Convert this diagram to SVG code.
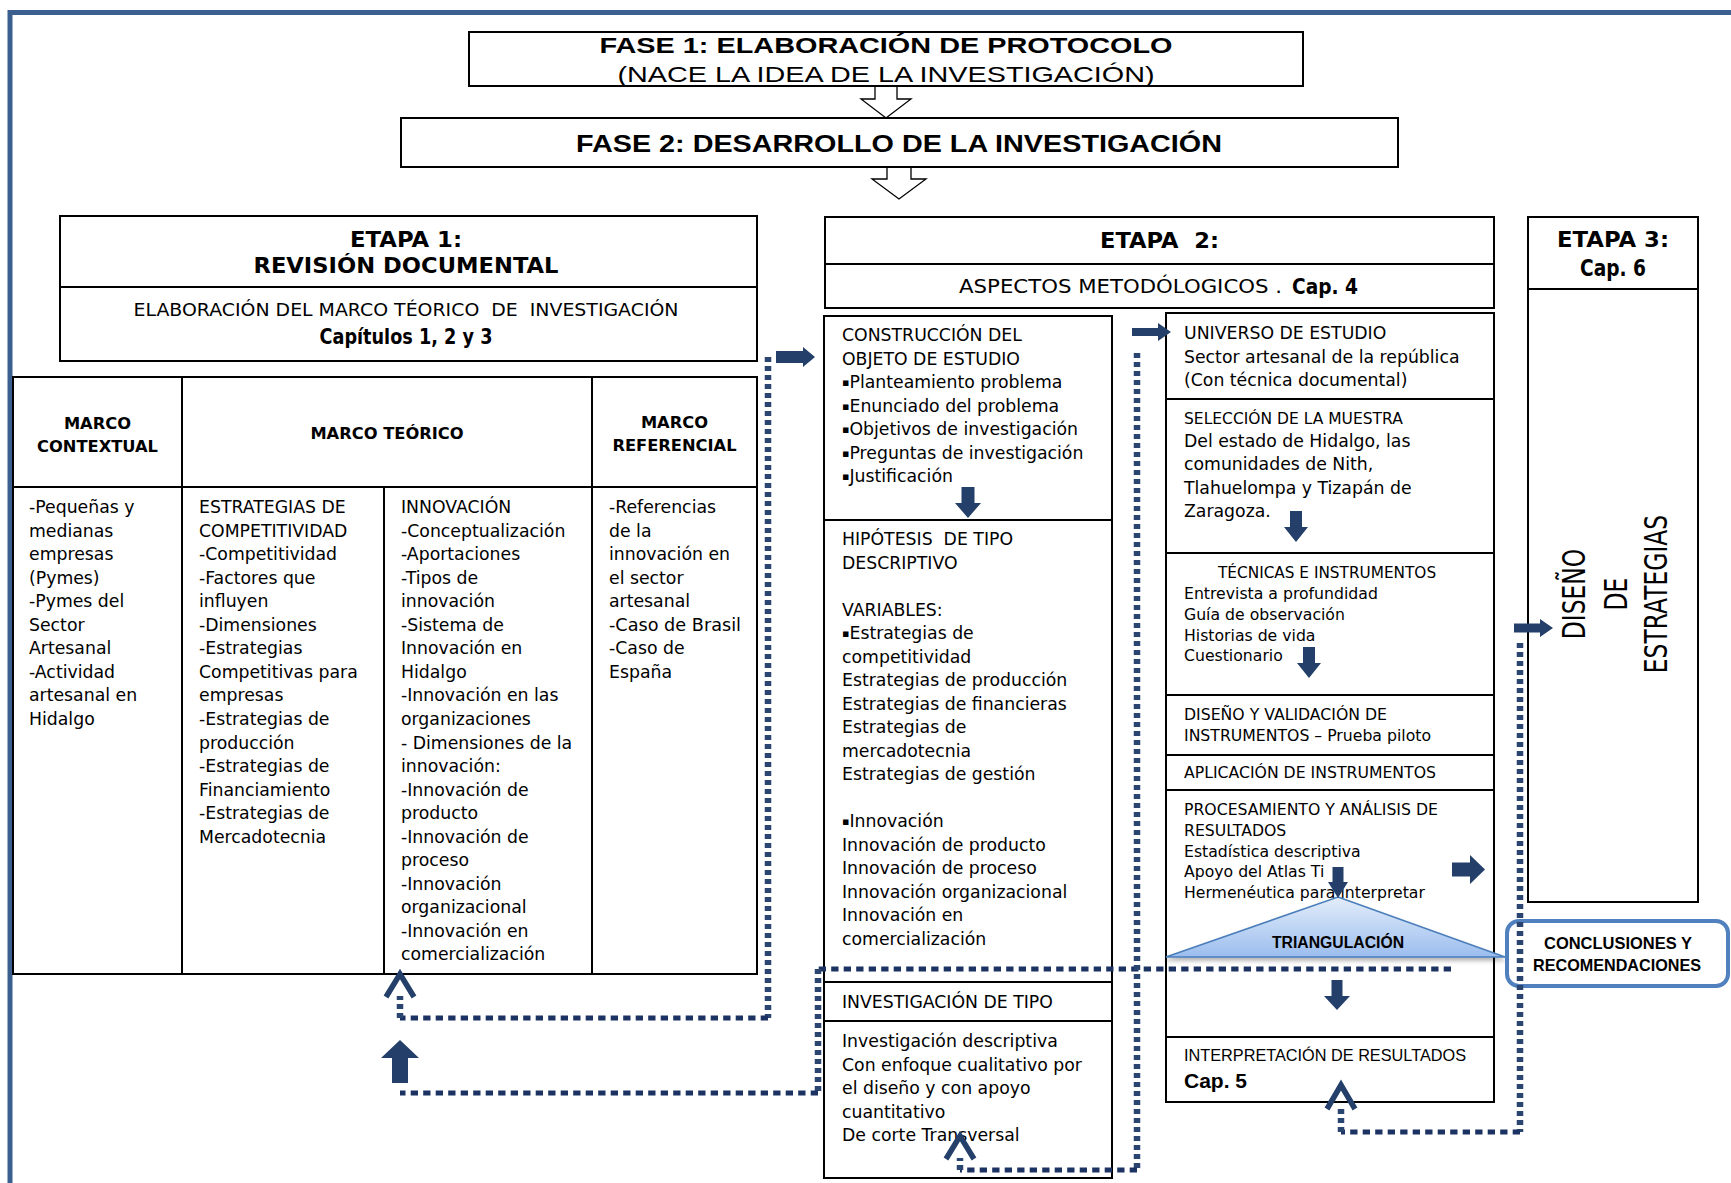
<svg xmlns="http://www.w3.org/2000/svg" width="1731" height="1183" viewBox="0 0 1731 1183">
<defs>
<style>
.bx{fill:#fff;stroke:#000;stroke-width:2}
.ln{fill:none;stroke:#000;stroke-width:2}
.t{font-family:'DejaVu Sans','Noto Sans',sans-serif;font-size:17.3px;fill:#000}
.s{font-size:15.7px}
.b{font-weight:bold}
.ar{font-family:'Liberation Sans',Arial,sans-serif}
.m{text-anchor:middle}
.bu{font-size:11px;baseline-shift:2.5px}
.dv{fill:none;stroke:#2A4570;stroke-width:6.5;stroke-dasharray:5 4}
.dh{fill:none;stroke:#1B3262;stroke-width:5;stroke-dasharray:7.3 5.2}
.ba{fill:#24406A}
.ch{fill:none;stroke:#24406A;stroke-width:5.5;stroke-linejoin:miter}
.ho{fill:#fff;stroke:#000;stroke-width:1.3}
</style>
<linearGradient id="tg" x1="0" y1="0" x2="0" y2="1"><stop offset="0" stop-color="#E3EDFA"/><stop offset="1" stop-color="#9BBDEE"/></linearGradient>
<filter id="sh" x="-10%" y="-20%" width="120%" height="160%"><feDropShadow dx="0" dy="3" stdDeviation="2" flood-color="#000" flood-opacity="0.3"/></filter>
</defs>
<rect width="1731" height="1183" fill="#fff"/>
<path d="M10,1183 V12.5 H1731" fill="none" stroke="#3B5F8E" stroke-width="5"/>

<g id="fase1">
<rect class="bx" x="469" y="32" width="834" height="54"/>
<text class="ar b m" x="886" y="53" style="font-size:22px" textLength="573" lengthAdjust="spacingAndGlyphs">FASE 1: ELABORACIÓN DE PROTOCOLO</text>
<text class="ar m" x="886" y="82" style="font-size:22px" textLength="537" lengthAdjust="spacingAndGlyphs">(NACE LA IDEA DE LA INVESTIGACIÓN)</text>
</g>
<path id="arrow-f1" class="ho" d="M875,87 V99 H861 L886,118 L911,99 H897 V87"/>
<g id="fase2">
<rect class="bx" x="401" y="118" width="997" height="49"/>
<text class="ar b m" x="899" y="151.5" style="font-size:23px" textLength="646" lengthAdjust="spacingAndGlyphs">FASE 2: DESARROLLO DE LA INVESTIGACIÓN</text>
</g>
<path id="arrow-f2" class="ho" d="M887,168 V179 H872 L899,199 L926,179 H911 V168"/>

<g id="etapa1">
<rect class="bx" x="60" y="216" width="697" height="145"/>
<line class="ln" x1="60" y1="287" x2="757" y2="287"/>
<text class="t b m" x="406" y="246.5" style="font-size:21px" textLength="112" lengthAdjust="spacingAndGlyphs">ETAPA 1:</text>
<text class="t b m" x="406" y="272.5" style="font-size:21.5px" textLength="305" lengthAdjust="spacingAndGlyphs">REVISIÓN DOCUMENTAL</text>
<text class="t m" x="406" y="316" style="font-size:18px" textLength="545" lengthAdjust="spacingAndGlyphs" xml:space="preserve">ELABORACIÓN DEL MARCO TÉORICO  DE  INVESTIGACIÓN</text>
<text class="t b m" x="406" y="344" style="font-size:20.5px" textLength="173" lengthAdjust="spacingAndGlyphs">Capítulos 1, 2 y 3</text>
</g>

<g id="tabla-marcos">
<rect class="bx" x="13" y="377" width="744" height="597"/>
<line class="ln" x1="13" y1="487" x2="757" y2="487"/>
<line class="ln" x1="182" y1="377" x2="182" y2="974"/>
<line class="ln" x1="592" y1="377" x2="592" y2="974"/>
<line class="ln" x1="384" y1="487" x2="384" y2="974"/>
<text class="t b m" style="font-size:16.3px"><tspan x="97.5" y="429">MARCO</tspan><tspan x="97.5" y="452">CONTEXTUAL</tspan></text>
<text class="t b m" style="font-size:16.3px" x="387" y="439">MARCO TEÓRICO</text>
<text class="t b m" style="font-size:16.3px"><tspan x="674.5" y="428">MARCO</tspan><tspan x="674.5" y="451">REFERENCIAL</tspan></text>
<text class="t"><tspan x="29" y="513">-Pequeñas y</tspan><tspan x="29" dy="23.55">medianas</tspan><tspan x="29" dy="23.55">empresas</tspan><tspan x="29" dy="23.55">(Pymes)</tspan><tspan x="29" dy="23.55">-Pymes del</tspan><tspan x="29" dy="23.55">Sector</tspan><tspan x="29" dy="23.55">Artesanal</tspan><tspan x="29" dy="23.55">-Actividad</tspan><tspan x="29" dy="23.55">artesanal en</tspan><tspan x="29" dy="23.55">Hidalgo</tspan></text>
<text class="t"><tspan x="199" y="513">ESTRATEGIAS DE</tspan><tspan x="199" dy="23.55">COMPETITIVIDAD</tspan><tspan x="199" dy="23.55">-Competitividad</tspan><tspan x="199" dy="23.55">-Factores que</tspan><tspan x="199" dy="23.55">influyen</tspan><tspan x="199" dy="23.55">-Dimensiones</tspan><tspan x="199" dy="23.55">-Estrategias</tspan><tspan x="199" dy="23.55">Competitivas para</tspan><tspan x="199" dy="23.55">empresas</tspan><tspan x="199" dy="23.55">-Estrategias de</tspan><tspan x="199" dy="23.55">producción</tspan><tspan x="199" dy="23.55">-Estrategias de</tspan><tspan x="199" dy="23.55">Financiamiento</tspan><tspan x="199" dy="23.55">-Estrategias de</tspan><tspan x="199" dy="23.55">Mercadotecnia</tspan></text>
<text class="t"><tspan x="401" y="513">INNOVACIÓN</tspan><tspan x="401" dy="23.55">-Conceptualización</tspan><tspan x="401" dy="23.55">-Aportaciones</tspan><tspan x="401" dy="23.55">-Tipos de</tspan><tspan x="401" dy="23.55">innovación</tspan><tspan x="401" dy="23.55">-Sistema de</tspan><tspan x="401" dy="23.55">Innovación en</tspan><tspan x="401" dy="23.55">Hidalgo</tspan><tspan x="401" dy="23.55">-Innovación en las</tspan><tspan x="401" dy="23.55">organizaciones</tspan><tspan x="401" dy="23.55">- Dimensiones de la</tspan><tspan x="401" dy="23.55">innovación:</tspan><tspan x="401" dy="23.55">-Innovación de</tspan><tspan x="401" dy="23.55">producto</tspan><tspan x="401" dy="23.55">-Innovación de</tspan><tspan x="401" dy="23.55">proceso</tspan><tspan x="401" dy="23.55">-Innovación</tspan><tspan x="401" dy="23.55">organizacional</tspan><tspan x="401" dy="23.55">-Innovación en</tspan><tspan x="401" dy="23.55">comercialización</tspan></text>
<text class="t"><tspan x="609" y="513">-Referencias</tspan><tspan x="609" dy="23.55">de la</tspan><tspan x="609" dy="23.55">innovación en</tspan><tspan x="609" dy="23.55">el sector</tspan><tspan x="609" dy="23.55">artesanal</tspan><tspan x="609" dy="23.55" textLength="132" lengthAdjust="spacingAndGlyphs">-Caso de Brasil</tspan><tspan x="609" dy="23.55">-Caso de</tspan><tspan x="609" dy="23.55">España</tspan></text>
</g>

<g id="etapa2">
<rect class="bx" x="825" y="217" width="669" height="91"/>
<line class="ln" x1="825" y1="264" x2="1494" y2="264"/>
<text class="t b m" x="1159.5" y="248" style="font-size:21px" textLength="119" lengthAdjust="spacingAndGlyphs" xml:space="preserve">ETAPA  2:</text>
<text class="t" x="959" y="293" style="font-size:19px" textLength="323" lengthAdjust="spacingAndGlyphs">ASPECTOS METODÓLOGICOS .</text>
<text class="t b" x="1292" y="293.5" style="font-size:21.5px" textLength="66" lengthAdjust="spacingAndGlyphs">Cap. 4</text>
</g>

<g id="etapa3">
<rect class="bx" x="1528" y="217" width="170" height="685"/>
<line class="ln" x1="1528" y1="289" x2="1698" y2="289"/>
<text class="t b m" x="1613" y="247" style="font-size:21px" textLength="112" lengthAdjust="spacingAndGlyphs">ETAPA 3:</text>
<text class="t b m" x="1613" y="276" style="font-size:22.5px" textLength="66" lengthAdjust="spacingAndGlyphs">Cap. 6</text>
<text class="t m" style="font-size:23.4px" transform="translate(1585,594) rotate(-90) scale(1,1.37)">DISEÑO</text>
<text class="t m" style="font-size:23.4px" transform="translate(1627,594) rotate(-90) scale(1,1.37)">DE</text>
<text class="t m" style="font-size:23.4px" transform="translate(1667,594) rotate(-90) scale(1,1.37)">ESTRATEGIAS</text>
</g>

<g id="columna-objeto">
<rect class="bx" x="824" y="316" width="288" height="862"/>
<line class="ln" x1="824" y1="520" x2="1112" y2="520"/>
<line class="ln" x1="824" y1="982" x2="1112" y2="982"/>
<line class="ln" x1="824" y1="1021" x2="1112" y2="1021"/>
<text class="t"><tspan x="842" y="341">CONSTRUCCIÓN DEL</tspan><tspan x="842" dy="23.5">OBJETO DE ESTUDIO</tspan><tspan x="842" dy="23.5"><tspan class="bu">▪</tspan>Planteamiento problema</tspan><tspan x="842" dy="23.5"><tspan class="bu">▪</tspan>Enunciado del problema</tspan><tspan x="842" dy="23.5"><tspan class="bu">▪</tspan>Objetivos de investigación</tspan><tspan x="842" dy="23.5"><tspan class="bu">▪</tspan>Preguntas de investigación</tspan><tspan x="842" dy="23.5"><tspan class="bu">▪</tspan>Justificación</tspan></text>
<text class="t" xml:space="preserve"><tspan x="842" y="545">HIPÓTESIS  DE TIPO</tspan><tspan x="842" dy="23.5">DESCRIPTIVO</tspan><tspan x="842" dy="47">VARIABLES:</tspan><tspan x="842" dy="23.5"><tspan class="bu">▪</tspan>Estrategias de</tspan><tspan x="842" dy="23.5">competitividad</tspan><tspan x="842" dy="23.5">Estrategias de producción</tspan><tspan x="842" dy="23.5">Estrategias de financieras</tspan><tspan x="842" dy="23.5">Estrategias de</tspan><tspan x="842" dy="23.5">mercadotecnia</tspan><tspan x="842" dy="23.5">Estrategias de gestión</tspan><tspan x="842" dy="47"><tspan class="bu">▪</tspan>Innovación</tspan><tspan x="842" dy="23.5">Innovación de producto</tspan><tspan x="842" dy="23.5">Innovación de proceso</tspan><tspan x="842" dy="23.5">Innovación organizacional</tspan><tspan x="842" dy="23.5">Innovación en</tspan><tspan x="842" dy="23.5">comercialización</tspan></text>
<text class="t" x="842" y="1008">INVESTIGACIÓN DE TIPO</text>
<text class="t"><tspan x="842" y="1047">Investigación descriptiva</tspan><tspan x="842" dy="23.5">Con enfoque cualitativo por</tspan><tspan x="842" dy="23.5">el diseño y con apoyo</tspan><tspan x="842" dy="23.5">cuantitativo</tspan><tspan x="842" dy="23.5">De corte Transversal</tspan></text>
</g>

<g id="columna-metodo">
<rect class="bx" x="1166" y="313" width="328" height="789"/>
<line class="ln" x1="1166" y1="399" x2="1494" y2="399"/>
<line class="ln" x1="1166" y1="553" x2="1494" y2="553"/>
<line class="ln" x1="1166" y1="695" x2="1494" y2="695"/>
<line class="ln" x1="1166" y1="755" x2="1494" y2="755"/>
<line class="ln" x1="1166" y1="790" x2="1494" y2="790"/>
<line class="ln" x1="1166" y1="1037" x2="1494" y2="1037"/>
<text class="t"><tspan x="1184" y="339">UNIVERSO DE ESTUDIO</tspan><tspan x="1184" dy="23.5">Sector artesanal de la república</tspan><tspan x="1184" dy="23.5">(Con técnica documental)</tspan></text>
<text class="t s" x="1184" y="424" style="font-size:15.5px">SELECCIÓN DE LA MUESTRA</text>
<text class="t"><tspan x="1184" y="446.5">Del estado de Hidalgo, las</tspan><tspan x="1184" dy="23.5">comunidades de Nith,</tspan><tspan x="1184" dy="23.5">Tlahuelompa y Tizapán de</tspan><tspan x="1184" dy="23.5">Zaragoza.</tspan></text>
<text class="t s" x="1218" y="578" style="font-size:15.3px">TÉCNICAS E INSTRUMENTOS</text>
<text class="t s"><tspan x="1184" y="599">Entrevista a profundidad</tspan><tspan x="1184" dy="20.8">Guía de observación</tspan><tspan x="1184" dy="20.8">Historias de vida</tspan><tspan x="1184" dy="20.8">Cuestionario</tspan></text>
<text class="t s"><tspan x="1184" y="720">DISEÑO Y VALIDACIÓN DE</tspan><tspan x="1184" dy="21">INSTRUMENTOS – Prueba piloto</tspan></text>
<text class="t s" x="1184" y="778">APLICACIÓN DE INSTRUMENTOS</text>
<text class="t s"><tspan x="1184" y="815">PROCESAMIENTO Y ANÁLISIS DE</tspan><tspan x="1184" dy="20.8">RESULTADOS</tspan><tspan x="1184" dy="20.8">Estadística descriptiva</tspan><tspan x="1184" dy="20.8">Apoyo del Atlas Ti</tspan><tspan x="1184" dy="20.8">Hermenéutica para interpretar</tspan></text>
<text class="ar" x="1184" y="1061" style="font-size:16.5px" textLength="282" lengthAdjust="spacingAndGlyphs">INTERPRETACIÓN DE RESULTADOS</text>
<text class="ar b" x="1184" y="1088" style="font-size:20px" textLength="63" lengthAdjust="spacingAndGlyphs">Cap. 5</text>
</g>

<g id="triangulacion">
<polygon points="1338,897 1505,957 1166,957" fill="url(#tg)" stroke="#4A7EBB" stroke-width="1.5" filter="url(#sh)"/>
<text class="ar b m" x="1338" y="948" style="font-size:16px" textLength="132" lengthAdjust="spacingAndGlyphs">TRIANGULACIÓN</text>
</g>

<g id="conclusiones">
<rect x="1507" y="921" width="221" height="65" rx="12" fill="#fff" stroke="#5080BE" stroke-width="4"/>
<text class="ar b m" x="1618" y="949" style="font-size:17px" textLength="148" lengthAdjust="spacingAndGlyphs">CONCLUSIONES Y</text>
<text class="ar b m" x="1617" y="971" style="font-size:17px" textLength="168" lengthAdjust="spacingAndGlyphs">RECOMENDACIONES</text>
</g>

<g id="conectores">
<path class="dv" d="M768,357 V1018"/>
<path class="dh" d="M768,1018 H400"/>
<path class="dv" d="M400,1018 V996"/>
<path class="ch" d="M386,997 L400,974 L414,997"/>
<path class="ba" d="M776,351 H803 V347 L815,357 L803,367 V363 H776 Z"/>

<path class="dh" d="M1451,969 H818"/>
<path class="dv" d="M818,969 V1093"/>
<path class="dh" d="M818,1093 H400"/>
<path class="ba" d="M392,1083 V1058 H381 L400,1040 L419,1058 H408 V1083 Z"/>

<path class="dv" d="M1137,353 V1170"/>
<path class="dh" d="M1137,1170 H960"/>
<path class="dv" d="M960,1170 V1158"/>
<path class="ch" d="M946,1159 L960,1136 L974,1159"/>
<path class="ba" d="M1132,328 H1158 V323 L1171,332 L1158,341 V336 H1132 Z"/>

<path class="dv" d="M1520,643 V1132"/>
<path class="dh" d="M1520,1132 H1341"/>
<path class="dv" d="M1341,1132 V1108"/>
<path class="ch" d="M1327,1109 L1341,1085 L1355,1109"/>
<path class="ba" d="M1514,623.5 H1540 V619 L1553,628 L1540,637 V632.5 H1514 Z"/>

<path class="ba" d="M961.5,487 H974.5 V503 H981 L968,518 L955,503 H961.5 Z"/>
<path class="ba" d="M1290,511 H1302 V527 H1308 L1296,542 L1284,527 H1290 Z"/>
<path class="ba" d="M1303,647 H1315 V663 H1321 L1309,678 L1297,663 H1303 Z"/>
<path class="ba" d="M1332.5,867 H1343.5 V882 H1348 L1338,898 L1328,882 H1332.5 Z"/>
<path class="ba" d="M1331.5,980 H1342.5 V996 H1350 L1337,1010 L1324,996 H1331.5 Z"/>
<path class="ba" d="M1452,862.5 H1470 V855 L1485,869.5 L1470,884 V876.5 H1452 Z"/>
</g>
</svg>
